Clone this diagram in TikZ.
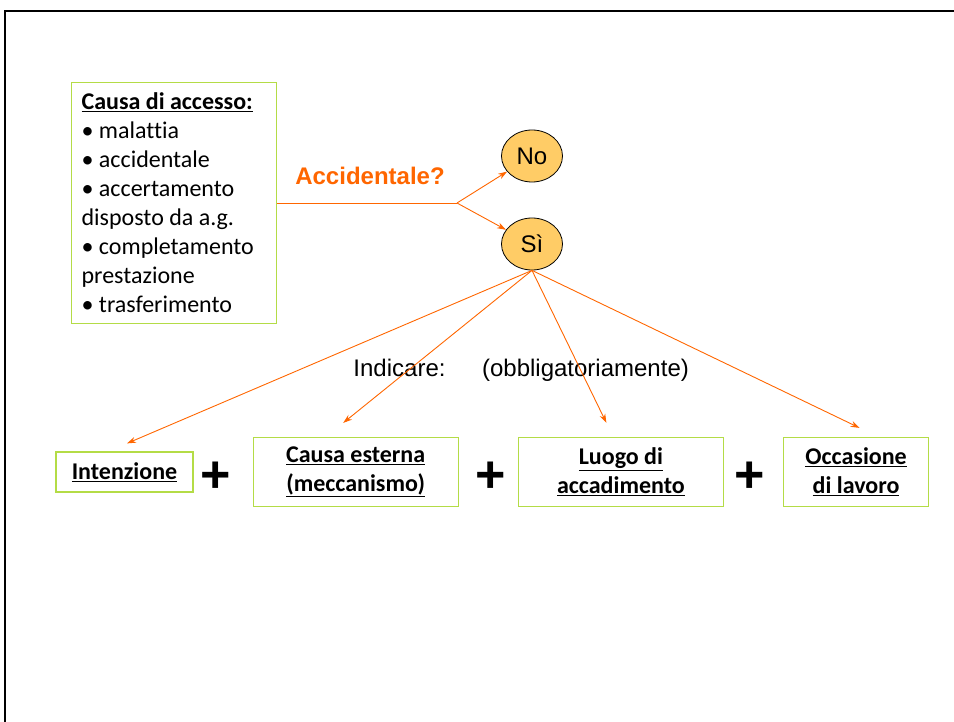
\documentclass[tikz,border=0pt]{standalone}
\usepackage{fontspec}
\setmainfont{Carlito}[Ligatures=CommonOff]
\newfontfamily\arialfont{Liberation Sans}
\usetikzlibrary{positioning, arrows.meta, shapes.geometric}
\definecolor{accorange}{RGB}{255,102,0}
\definecolor{boxgreen}{RGB}{180,220,70}
\definecolor{yesno}{RGB}{255,204,102}
\tikzset{%
  ar/.style={-{Stealth[length=9pt,width=6pt]}, color=accorange, line width=0.9pt},
  bx/.style={draw=boxgreen, line width=1.2pt, align=center, inner sep=0pt,
    minimum height=69pt, font=\fontsize{24}{29}\selectfont\bfseries},
  yn/.style={draw, ellipse, fill=yesno, line width=0.8pt, inner sep=0pt,
    minimum width=61pt, minimum height=52pt, font=\arialfont\fontsize{24}{26}\selectfont},
  pl/.style={font=\arialfont\bfseries\fontsize{52}{52}\selectfont, inner sep=0pt},
  ar24/.style={font=\arialfont\fontsize{24}{26}\selectfont, inner sep=0pt, anchor=base}
}

\begin{document}
\begin{tikzpicture}[x=1pt, y=-1pt]
        \useasboundingbox (0,0) rectangle (954,722);
        \draw[line width=2pt] (5,722) -- (5,11) -- (954,11);
        % causa di accesso
        \node[draw=boxgreen, line width=1.2pt, anchor=north west, align=flush left,
              text width=185pt, inner xsep=10pt, inner ysep=10.5pt,
              font=\fontsize{24}{29}\selectfont] (causa) at (71,82)
              {\underline{\textbf{Causa di accesso:}}\\
               \textbullet\ malattia\\
               \textbullet\ accidentale\\
               \textbullet\ accertamento\\
               disposto da a.g.\\
               \textbullet\ completamento\\
               prestazione\\
               \textbullet\ trasferimento};
        \coordinate (fork) at (457,203);
        \node[ar24, font=\arialfont\bfseries\fontsize{24}{26}\selectfont, text=accorange] (acc) at (370,185) {Accidentale?};
        \node[yn] (no) at (532,156) {No};
        \node[yn] (si) at (532,244) {Sì};
        \node[ar24] (ind) at (399.5,376) {Indicare:};
        \node[ar24] (obb) at (585.5,376) {(obbligatoriamente)};
        % esiti
        \node[bx, minimum width=137pt, minimum height=40pt] (inten) at (124.5,472) {\underline{Intenzione}};
        \node[bx, minimum width=205pt] (caus) [right = 59pt of inten] {\underline{Causa esterna}\\\underline{(meccanismo)}};
        \node[bx, minimum width=205pt] (luogo) [right = 59pt of caus] {\underline{Luogo di}\\\underline{accadimento}};
        \node[bx, minimum width=145pt] (occ) [right = 59pt of luogo] {\underline{Occasione}\\\underline{di lavoro}};
        \node[pl] (p1) at (216,477) {+};
        \node[pl] (p2) at (491,477) {+};
        \node[pl] (p3) at (750,477) {+};
        \draw[accorange, line width=0.9pt] (causa.east |- fork) -- (fork);
        \path[ar]
        (fork) edge (no)
        (fork) edge (si)
        (si.south) edge ([xshift=2.5pt, yshift=8pt]inten.north)
        (si.south) edge ([xshift=-12.5pt, yshift=14pt]caus.north)
        (si.south) edge ([xshift=-14.5pt, yshift=14pt]luogo.north)
        (si.south) edge ([xshift=3.5pt, yshift=9pt]occ.north);
      \end{tikzpicture}
\end{document}
